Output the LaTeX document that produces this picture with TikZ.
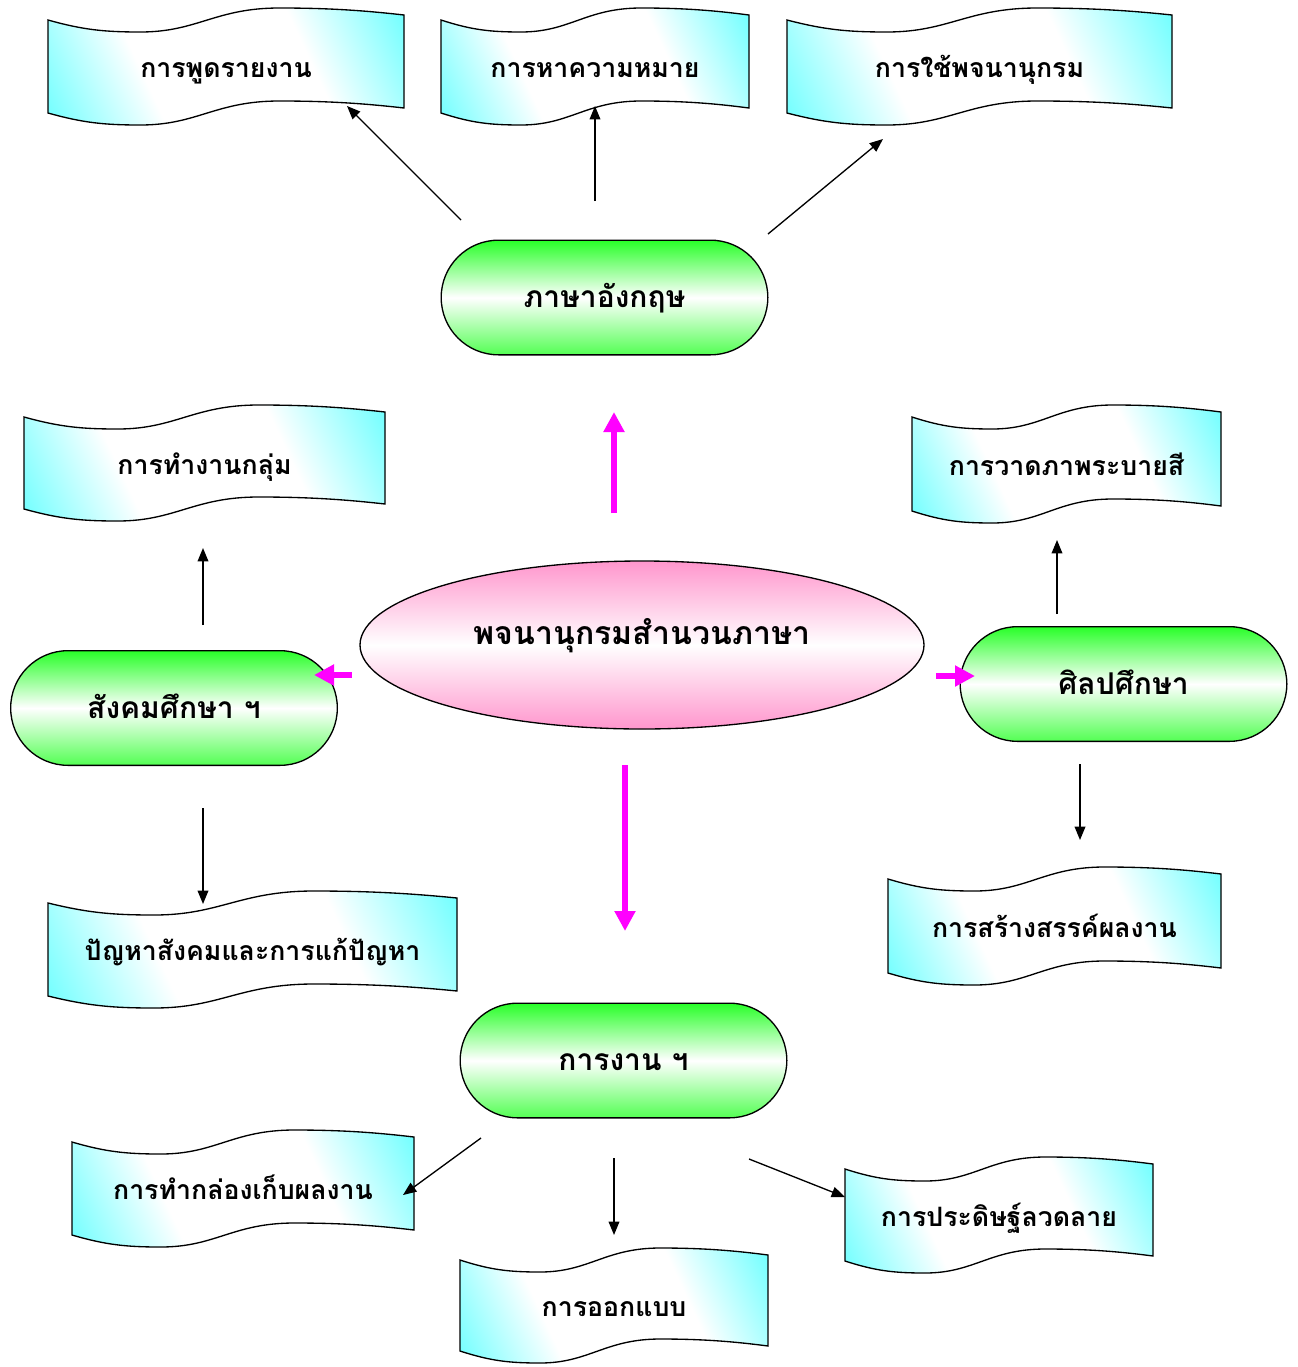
\documentclass[tikz,border=0pt]{standalone}
\usepackage{fontspec}
\newfontfamily\thaifont[Script=Thai]{Loma}
\usetikzlibrary{shapes.geometric,shapes.misc,arrows.meta}
\definecolor{bcyan}{RGB}{60,255,255}
\definecolor{bgreen}{RGB}{40,255,40}
\definecolor{bpink}{RGB}{255,150,205}
\definecolor{bmag}{RGB}{255,0,255}
\pgfdeclarehorizontalshading{banshade}{100bp}{color(0bp)=(bcyan); color(10bp)=(bcyan); color(36bp)=(white); color(64bp)=(white); color(90bp)=(bcyan); color(100bp)=(bcyan)}
\tikzset{
 lbl/.style={font=\thaifont\bfseries\fontsize{20}{22}\selectfont, text=black, inner sep=0pt, text height=15pt, text depth=0pt},
 bannerfill/.style={draw=black, line width=1pt, shading=banshade, shading angle=25},
 stadium/.style={rounded rectangle, draw=black, line width=1pt, top color=bgreen, bottom color=bgreen!80, middle color=white, minimum width=245pt, minimum height=86pt, lbl, font=\thaifont\bfseries\fontsize{22.5}{24}\selectfont},
 hub/.style={ellipse, draw=black, line width=1pt, top color=bpink, bottom color=bpink, middle color=white, minimum width=423pt, minimum height=126pt, lbl, text height=0pt, text depth=1.5pt, font=\thaifont\bfseries\fontsize{24}{26}\selectfont},
 blk/.style={-{Triangle[length=10pt,width=8pt]}, line width=1pt, black},
 mag/.style={-{Triangle[length=15pt,width=15pt]}, line width=5pt, bmag},
}
% #1 name, #2 left, #3 top, #4 right, #5 bottom, #6 text
\newcommand\wavebanner[6]{%
 \pgfmathsetmacro\wL{#2}\pgfmathsetmacro\wT{#3}\pgfmathsetmacro\wR{#4}%
 \pgfmathsetmacro\wW{#4-#2}\pgfmathsetmacro\wD{#5-#3-24}%
 \shadedraw[bannerfill] (\wL,\wT+12) .. controls (\wL+0.1*\wW,\wT+22) and (\wL+0.16*\wW,\wT+24) .. (\wL+0.26*\wW,\wT+24)
   .. controls (\wL+0.42*\wW,\wT+24) and (\wL+0.47*\wW,\wT) .. (\wL+0.65*\wW,\wT)
   .. controls (\wL+0.8*\wW,\wT) and (\wL+0.9*\wW,\wT+3) .. (\wR,\wT+7)
   -- (\wR,\wT+7+\wD)
   .. controls (\wL+0.9*\wW,\wT+3+\wD) and (\wL+0.8*\wW,\wT+\wD) .. (\wL+0.65*\wW,\wT+\wD)
   .. controls (\wL+0.47*\wW,\wT+\wD) and (\wL+0.42*\wW,\wT+24+\wD) .. (\wL+0.26*\wW,\wT+24+\wD)
   .. controls (\wL+0.16*\wW,\wT+24+\wD) and (\wL+0.1*\wW,\wT+22+\wD) .. (\wL,\wT+12+\wD) -- cycle;
 \node[lbl] (#1) at ({(#2+#4)/2},{(#3+#5)/2+1}) {#6};
}
\begin{document}
\begin{tikzpicture}[x=0.75pt,y=-0.75pt]
\useasboundingbox (0,0) rectangle (1297,1367);
% banners
\wavebanner{b1}{48}{8}{404}{125}{การพูดรายงาน}
\wavebanner{b2}{441}{8}{749}{125}{การหาความหมาย}
\wavebanner{b3}{787}{8}{1172}{125}{การใช้พจนานุกรม}
\wavebanner{b4}{24}{405}{385}{521}{การทำงานกลุ่ม}
\wavebanner{b5}{912}{405}{1221}{523}{การวาดภาพระบายสี}
\wavebanner{b6}{48}{891}{457}{1008}{ปัญหาสังคมและการแก้ปัญหา}
\wavebanner{b7}{888}{867}{1221}{985}{การสร้างสรรค์ผลงาน}
\wavebanner{b8}{72}{1130}{414}{1247}{การทำกล่องเก็บผลงาน}
\wavebanner{b9}{845}{1157}{1153}{1273}{การประดิษฐ์ลวดลาย}
\wavebanner{b10}{460}{1248}{768}{1363}{การออกแบบ}
% hub and stadiums
\node[hub] (hub) at (642,645) {พจนานุกรมสำนวนภาษา};
\node[stadium] (eng) at (604.5,297.5) {ภาษาอังกฤษ};
\node[stadium] (soc) at (174,708) {สังคมศึกษา ฯ};
\node[stadium] (art) at (1123.5,684) {ศิลปศึกษา};
\node[stadium] (work) at (623.5,1060.5) {การงาน ฯ};
% arrow end points
\coordinate (e1s) at (461,220); \coordinate (e1t) at (347,106);
\coordinate (e2s) at (595,201); \coordinate (e2t) at (595,106);
\coordinate (e3s) at (768,234); \coordinate (e3t) at (883,139);
\coordinate (s1s) at (203,625); \coordinate (s1t) at (203,548);
\coordinate (s2s) at (203,808); \coordinate (s2t) at (203,904);
\coordinate (a1s) at (1057,614); \coordinate (a1t) at (1057,540);
\coordinate (a2s) at (1080,764); \coordinate (a2t) at (1080,840);
\coordinate (w1s) at (481,1138); \coordinate (w1t) at (403,1195);
\coordinate (w2s) at (614,1158); \coordinate (w2t) at (614,1235);
\coordinate (w3s) at (749,1159); \coordinate (w3t) at (845,1197);
\coordinate (mUs) at (614,513); \coordinate (mUt) at (614,412);
\coordinate (mLs) at (352,675); \coordinate (mLt) at (314,675);
\coordinate (mRs) at (936,676); \coordinate (mRt) at (975,676);
\coordinate (mDs) at (625,765); \coordinate (mDt) at (625,931);
\foreach \p in {e1,e2,e3,s1,s2,a1,a2,w1,w2,w3}{\draw[blk] (\p s) -- (\p t);}
\foreach \p in {mU,mL,mR,mD}{\draw[mag] (\p s) -- (\p t);}
\end{tikzpicture}
\end{document}
